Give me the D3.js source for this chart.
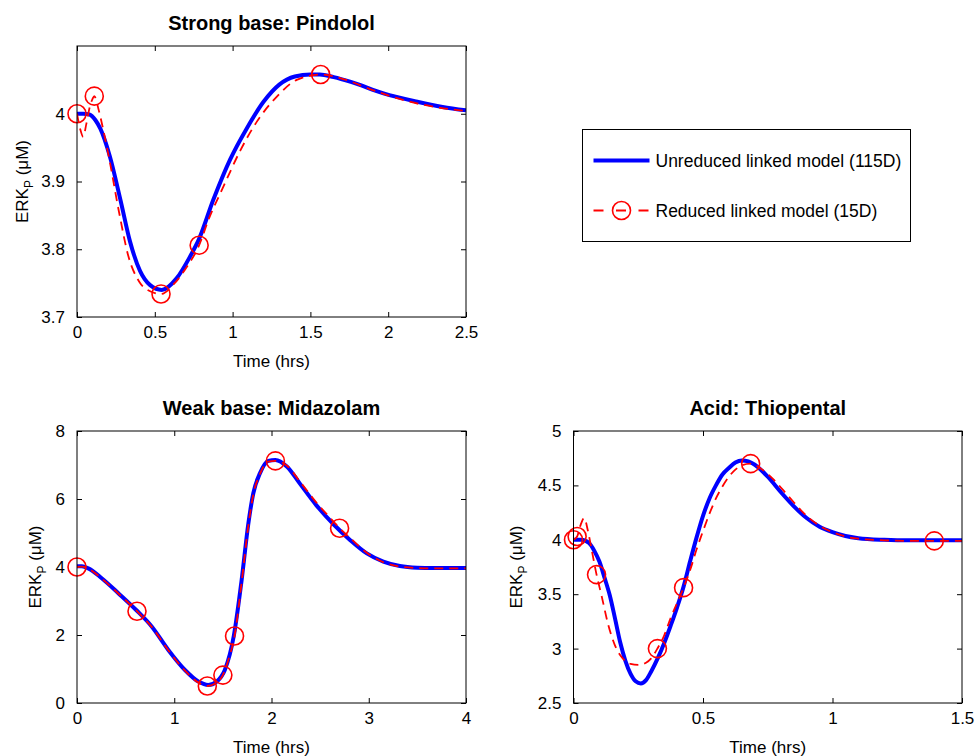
<!DOCTYPE html>
<html lang="en">
<head>
    <meta charset="UTF-8">
    <title>ERK_P response for three drugs</title>
    <script src="https://d3js.org/d3.v7.min.js"></script>
    <style>
        body {
            margin: 0;
            padding: 0;
            background-color: #fff;
        }
        svg text {
            font-family: "Liberation Sans", Arial, sans-serif;
            fill: #000;
        }
        .tick line {
            stroke: #000;
        }
    </style>
</head>
<body>
    <svg id="chart" width="976" height="756"></svg>

    <script>
        // Strong base: Pindolol
        const pindololBlueT = [0, 0.04, 0.08, 0.12, 0.15, 0.21, 0.28, 0.34, 0.405, 0.47, 0.545, 0.64, 0.726, 0.784, 0.876, 0.983, 1.09, 1.2, 1.3, 1.4, 1.5, 1.56, 1.65, 1.76, 1.97, 2.18, 2.35, 2.5];
        const pindololBlueV = [4.0, 4.0, 3.999, 3.99, 3.978, 3.938, 3.872, 3.812, 3.768, 3.747, 3.74, 3.757, 3.789, 3.815, 3.873, 3.932, 3.978, 4.018, 4.043, 4.055, 4.058, 4.058, 4.054, 4.047, 4.03, 4.018, 4.01, 4.005];
        const pindololRedT = [0, 0.02, 0.04, 0.06, 0.08, 0.1, 0.111, 0.14, 0.17, 0.21, 0.27, 0.33, 0.4, 0.47, 0.54, 0.62, 0.7, 0.785, 0.844, 0.94, 1.05, 1.155, 1.283, 1.412, 1.566, 1.7, 1.9, 2.1, 2.3, 2.5];
        const pindololRedV = [4.0, 3.978, 3.966, 3.985, 4.008, 4.022, 4.026, 4.005, 3.975, 3.93, 3.855, 3.79, 3.752, 3.738, 3.734, 3.748, 3.772, 3.806, 3.843, 3.892, 3.946, 3.988, 4.025, 4.05, 4.058, 4.052, 4.035, 4.02, 4.01, 4.004];
        const pindololMarkT = [0, 0.111, 0.54, 0.785, 1.566];
        const pindololMarkV = [4.0, 4.026, 3.734, 3.806, 4.058];
        const pindololXTicks = [0, 0.5, 1, 1.5, 2, 2.5];
        const pindololYTicks = [3.7, 3.8, 3.9, 4];

        // Weak base: Midazolam
        const midazolamBlueT = [0, 0.05, 0.116, 0.254, 0.425, 0.614, 0.768, 0.939, 1.11, 1.248, 1.35, 1.436, 1.52, 1.614, 1.693, 1.762, 1.813, 1.882, 1.967, 2.04, 2.16, 2.29, 2.46, 2.64, 2.81, 2.98, 3.15, 3.32, 3.5, 3.66, 4.0];
        const midazolamBlueV = [4.02, 4.02, 3.96, 3.67, 3.23, 2.72, 2.25, 1.56, 0.97, 0.63, 0.53, 0.63, 0.97, 2.0, 3.62, 5.28, 6.17, 6.76, 7.12, 7.15, 6.95, 6.46, 5.82, 5.25, 4.79, 4.4, 4.16, 4.03, 3.98, 3.97, 3.97];
        const midazolamRedT = [0, 0.05, 0.116, 0.254, 0.425, 0.617, 0.768, 0.939, 1.11, 1.248, 1.34, 1.436, 1.5, 1.56, 1.62, 1.693, 1.762, 1.813, 1.882, 1.967, 2.04, 2.16, 2.29, 2.46, 2.64, 2.7, 2.81, 2.98, 3.15, 3.32, 3.5, 3.66, 4.0];
        const midazolamRedV = [4.0, 4.01, 3.95, 3.66, 3.22, 2.7, 2.24, 1.55, 0.95, 0.6, 0.5, 0.6, 0.82, 1.3, 1.97, 3.55, 5.22, 6.13, 6.74, 7.1, 7.12, 6.98, 6.52, 5.9, 5.33, 5.14, 4.85, 4.42, 4.14, 4.01, 3.97, 3.96, 3.96];
        const midazolamMarkT = [0, 0.617, 1.34, 1.5, 1.62, 2.04, 2.7];
        const midazolamMarkV = [4.0, 2.7, 0.5, 0.82, 1.97, 7.12, 5.14];
        const midazolamXTicks = [0, 1, 2, 3, 4];
        const midazolamYTicks = [0, 2, 4, 6, 8];

        // Acid: Thiopental
        const thiopentalBlueT = [0, 0.03, 0.06, 0.08, 0.1, 0.12, 0.14, 0.16, 0.18, 0.2, 0.22, 0.24, 0.26, 0.28, 0.3, 0.325, 0.35, 0.375, 0.4, 0.425, 0.45, 0.475, 0.5, 0.525, 0.55, 0.575, 0.6, 0.625, 0.65, 0.675, 0.7, 0.75, 0.8, 0.85, 0.9, 0.95, 1.0, 1.05, 1.1, 1.2, 1.3, 1.5];
        const thiopentalBlueV = [4.0, 4.0, 3.97, 3.9, 3.8, 3.65, 3.49, 3.28, 3.06, 2.89, 2.77, 2.7, 2.68, 2.71, 2.79, 2.91, 3.05, 3.21, 3.38, 3.57, 3.8, 4.02, 4.22, 4.38, 4.5, 4.6, 4.66, 4.71, 4.73, 4.72, 4.69, 4.58, 4.44, 4.31, 4.2, 4.12, 4.07, 4.035, 4.015, 4.0, 3.995, 3.995];
        const thiopentalRedT = [0, 0.014, 0.028, 0.041, 0.055, 0.07, 0.089, 0.108, 0.134, 0.16, 0.19, 0.22, 0.25, 0.28, 0.3, 0.324, 0.35, 0.375, 0.4, 0.425, 0.45, 0.475, 0.5, 0.525, 0.55, 0.575, 0.6, 0.625, 0.65, 0.684, 0.72, 0.77, 0.83, 0.9, 0.95, 1.0, 1.05, 1.1, 1.2, 1.3, 1.393, 1.5];
        const thiopentalRedV = [4.0, 4.03, 4.14, 4.2, 4.09, 3.91, 3.68, 3.49, 3.22, 3.03, 2.91, 2.86, 2.85, 2.87, 2.91, 3.0, 3.12, 3.28, 3.42, 3.56, 3.72, 3.91, 4.08, 4.24, 4.38, 4.49, 4.58, 4.645, 4.685, 4.7, 4.66, 4.56, 4.4, 4.22, 4.13, 4.07, 4.03, 4.01, 3.995, 3.99, 3.99, 3.99];
        const thiopentalMarkT = [0, 0.014, 0.089, 0.324, 0.425, 0.684, 1.393];
        const thiopentalMarkV = [4.0, 4.03, 3.68, 3.0, 3.56, 4.7, 3.99];
        const thiopentalXTicks = [0, 0.5, 1, 1.5];
        const thiopentalYTicks = [2.5, 3, 3.5, 4, 4.5, 5];

        const legendLabels = ['Unreduced linked model (115D)', 'Reduced linked model (15D)'];

        const zip = (ts, vs) => ts.map((t, i) => ({t: t, v: vs[i]}));

        const panels = [
            {
                title: 'Strong base: Pindolol',
                left: 77, top: 46, width: 389, height: 271, ylabelX: 22,
                xDomain: [0, 2.5], yDomain: [3.7, 4.1],
                xTicks: pindololXTicks, yTicks: pindololYTicks,
                blue: zip(pindololBlueT, pindololBlueV),
                red: zip(pindololRedT, pindololRedV),
                marks: zip(pindololMarkT, pindololMarkV)
            },
            {
                title: 'Weak base: Midazolam',
                left: 77, top: 431, width: 389, height: 272, ylabelX: 35,
                xDomain: [0, 4], yDomain: [0, 8],
                xTicks: midazolamXTicks, yTicks: midazolamYTicks,
                blue: zip(midazolamBlueT, midazolamBlueV),
                red: zip(midazolamRedT, midazolamRedV),
                marks: zip(midazolamMarkT, midazolamMarkV)
            },
            {
                title: 'Acid: Thiopental',
                left: 573.5, top: 431, width: 388.5, height: 272, ylabelX: 516,
                xDomain: [0, 1.5], yDomain: [2.5, 5],
                xTicks: thiopentalXTicks, yTicks: thiopentalYTicks,
                blue: zip(thiopentalBlueT, thiopentalBlueV),
                red: zip(thiopentalRedT, thiopentalRedV),
                marks: zip(thiopentalMarkT, thiopentalMarkV)
            }
        ];

        const svg = d3.select('#chart');
        const blueColor = '#0000ff';
        const redColor = '#ff0000';
        const markerR = 9;

        panels.forEach((p, idx) => {
            const x = d3.scaleLinear().domain(p.xDomain).range([0, p.width]);
            const y = d3.scaleLinear().domain(p.yDomain).range([p.height, 0]);

            const g = svg.append('g')
                .attr('transform', `translate(${p.left},${p.top})`);

            g.append('rect')
                .attr('width', p.width)
                .attr('height', p.height)
                .attr('fill', '#fff');

            // inward ticks on all four sides, labels only bottom + left
            const fmt = d => String(d);
            g.append('g')
                .attr('transform', `translate(0,${p.height})`)
                .call(d3.axisBottom(x).tickValues(p.xTicks).tickFormat(fmt).tickSize(-5).tickPadding(9));
            g.append('g')
                .call(d3.axisLeft(y).tickValues(p.yTicks).tickFormat(fmt).tickSize(-5).tickPadding(12));
            g.append('g')
                .call(d3.axisTop(x).tickValues(p.xTicks).tickFormat('').tickSize(-5));
            g.append('g')
                .attr('transform', `translate(${p.width},0)`)
                .call(d3.axisRight(y).tickValues(p.yTicks).tickFormat('').tickSize(-5));

            g.selectAll('.domain').remove();
            g.selectAll('.tick text')
                .attr('font-size', 17)
                .attr('font-family', '"Liberation Sans", Arial, sans-serif')
                .attr('fill', '#000');

            const clipId = 'clip' + idx;
            g.append('clipPath').attr('id', clipId)
                .append('rect')
                .attr('width', p.width)
                .attr('height', p.height);

            const line = d3.line()
                .x(d => x(d.t))
                .y(d => y(d.v))
                .curve(d3.curveMonotoneX);

            g.append('path')
                .datum(p.blue)
                .attr('clip-path', `url(#${clipId})`)
                .attr('d', line)
                .attr('fill', 'none')
                .attr('stroke', blueColor)
                .attr('stroke-width', 4);

            g.append('path')
                .datum(p.red)
                .attr('clip-path', `url(#${clipId})`)
                .attr('d', line)
                .attr('fill', 'none')
                .attr('stroke', redColor)
                .attr('stroke-width', 1.8)
                .attr('stroke-dasharray', '9,6');

            g.selectAll('.marker')
                .data(p.marks)
                .enter()
                .append('circle')
                .attr('class', 'marker')
                .attr('cx', d => x(d.t))
                .attr('cy', d => y(d.v))
                .attr('r', markerR)
                .attr('fill', 'none')
                .attr('stroke', redColor)
                .attr('stroke-width', 1.6);

            // axes box
            g.append('rect')
                .attr('width', p.width)
                .attr('height', p.height)
                .attr('fill', 'none')
                .attr('stroke', '#000')
                .attr('stroke-width', 1);

            // title
            g.append('text')
                .attr('x', p.width / 2)
                .attr('y', -16)
                .attr('text-anchor', 'middle')
                .attr('font-size', 20)
                .attr('font-weight', 'bold')
                .text(p.title);

            // x label
            g.append('text')
                .attr('x', p.width / 2)
                .attr('y', p.height + 50)
                .attr('text-anchor', 'middle')
                .attr('font-size', 17)
                .text('Time (hrs)');

            // y label with subscript
            const yl = svg.append('text')
                .attr('transform', `translate(${p.ylabelX},${p.top + p.height / 2}) rotate(-90)`)
                .attr('text-anchor', 'middle')
                .attr('dy', '0.35em')
                .attr('font-size', 17);
            yl.append('tspan').text('ERK');
            yl.append('tspan').attr('font-size', 12).attr('dy', 5).text('P');
            yl.append('tspan').attr('dy', -5).text(' (μM)');
        });

        // Legend
        const legend = svg.append('g').attr('transform', 'translate(582.5,129.5)');
        legend.append('rect')
            .attr('width', 328)
            .attr('height', 112)
            .attr('fill', '#fff')
            .attr('stroke', '#000')
            .attr('stroke-width', 1);

        legend.append('line')
            .attr('x1', 11).attr('x2', 67)
            .attr('y1', 31).attr('y2', 31)
            .attr('stroke', blueColor)
            .attr('stroke-width', 4);

        legend.append('line')
            .attr('x1', 11).attr('x2', 67)
            .attr('y1', 81).attr('y2', 81)
            .attr('stroke', redColor)
            .attr('stroke-width', 1.8)
            .attr('stroke-dasharray', '10,12.5');
        legend.append('circle')
            .attr('cx', 39).attr('cy', 81)
            .attr('r', markerR)
            .attr('fill', 'none')
            .attr('stroke', redColor)
            .attr('stroke-width', 1.6);

        legend.selectAll('.legend-label')
            .data(legendLabels)
            .enter()
            .append('text')
            .attr('class', 'legend-label')
            .attr('x', 73)
            .attr('y', (d, i) => 31 + i * 50)
            .attr('dy', '0.36em')
            .attr('font-size', 17.5)
            .text(d => d);
    </script>
</body>
</html>
